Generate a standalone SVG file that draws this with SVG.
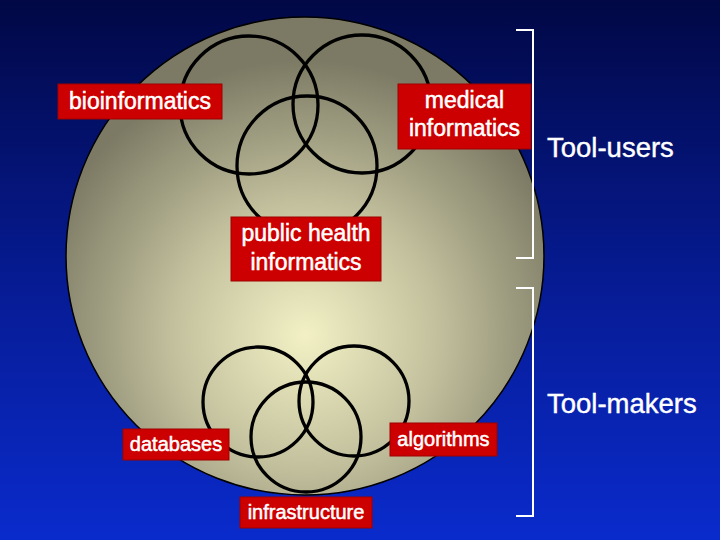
<svg xmlns="http://www.w3.org/2000/svg" width="720" height="540" viewBox="0 0 720 540">
<defs>
<linearGradient id="bg" x1="0" y1="0" x2="0" y2="1">
<stop offset="0" stop-color="#010845"/>
<stop offset="0.5" stop-color="#061a90"/>
<stop offset="1" stop-color="#0a2bcc"/>
</linearGradient>
<radialGradient id="sphere" cx="305" cy="335" r="275" gradientUnits="userSpaceOnUse">
<stop offset="0" stop-color="#f2f0c4"/>
<stop offset="0.45" stop-color="#c6c4a0"/>
<stop offset="1" stop-color="#7c7a64"/>
</radialGradient>
<style>
.ring{fill:none;stroke:#000;stroke-width:3.3}
.box{fill:#cc0000;stroke:#a00000;stroke-width:1}
.lbl{fill:#fff;stroke:#fff;stroke-width:0.5;font-family:"Liberation Sans",Arial,sans-serif;font-size:23px;text-anchor:middle}
.sm{font-size:20px}
.side{fill:#fff;stroke:#fff;stroke-width:0.4;font-family:"Liberation Sans",Arial,sans-serif;font-size:27.5px}
.brk{fill:none;stroke:#fff;stroke-width:2}
</style>
</defs>
<rect width="720" height="540" fill="url(#bg)"/>
<circle id="sphere-disc" cx="305" cy="256" r="239" fill="url(#sphere)" stroke="#000" stroke-width="1.5"/>
<g id="connectors">
<circle class="ring" cx="249" cy="105" r="69"/>
<circle class="ring" cx="362" cy="104" r="69"/>
<circle class="ring" cx="307" cy="166" r="70"/>
<circle class="ring" cx="258" cy="402" r="55"/>
<circle class="ring" cx="354" cy="401" r="55"/>
<circle class="ring" cx="306" cy="437" r="55"/>
<path class="brk" d="M516,30 H533 V258 H516"/>
<path class="brk" d="M516,288 H533 V516 H516"/>
</g>
<g id="bioinformatics">
<rect class="box" x="58" y="84" width="164" height="35"/>
<text class="lbl" x="140" y="109">bioinformatics</text>
</g>
<g id="medical-informatics">
<rect class="box" x="398" y="84" width="133" height="65"/>
<text class="lbl" x="464.5" y="108">medical</text>
<text class="lbl" x="464.5" y="136">informatics</text>
</g>
<g id="public-health-informatics">
<rect class="box" x="231" y="217" width="150" height="64"/>
<text class="lbl" x="306" y="241">public health</text>
<text class="lbl" x="306" y="270">informatics</text>
</g>
<g id="databases">
<rect class="box" x="123" y="429" width="106" height="31"/>
<text class="lbl sm" x="176" y="451">databases</text>
</g>
<g id="algorithms">
<rect class="box" x="390" y="423" width="107" height="33"/>
<text class="lbl sm" x="443.5" y="446">algorithms</text>
</g>
<g id="infrastructure">
<rect class="box" x="240" y="497" width="132" height="31"/>
<text class="lbl sm" x="306" y="519">infrastructure</text>
</g>
<g id="tool-users">
<text class="side" x="547" y="157">Tool-users</text>
</g>
<g id="tool-makers">
<text class="side" x="547" y="413">Tool-makers</text>
</g>
</svg>
